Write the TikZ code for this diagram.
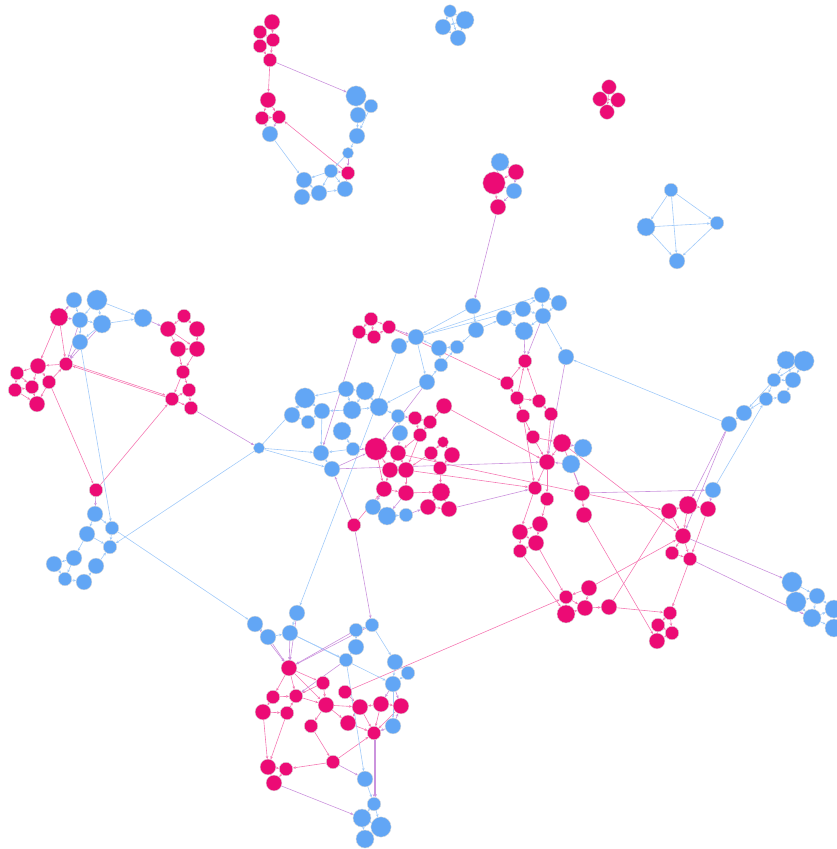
\documentclass[tikz,border=0pt]{standalone}
\usetikzlibrary{arrows.meta}
\definecolor{pk}{RGB}{236,11,117}
\definecolor{bl}{RGB}{98,166,245}
\definecolor{emc}{RGB}{190,120,212}
\pgfdeclarelayer{bg}
\pgfsetlayers{bg,main}
\tikzset{
  nd/.style={circle,inner sep=0pt,draw=white!70!gray,line width=0.4pt},
  pn/.style={nd,fill=pk},
  bn/.style={nd,fill=bl},
  tip/.style={-{Stealth[length=3pt,width=2.6pt]}},
  ep/.style={tip,draw=pk!55!white,line width=0.6pt},
  eb/.style={tip,draw=bl!60!white,line width=0.6pt},
  em/.style={tip,draw=emc!80!white,line width=0.6pt},
}
\begin{document}
\begin{tikzpicture}[x=1pt,y=-1pt]
\useasboundingbox (0,0) rectangle (837,849);
% pink nodes
\foreach \n/\x/\y/\r in {
a1/272/22/7,a2/260/32/6,a3/273/40/6,a4/260/46/6,a5/270/60/6,a6/268/100/7,a7/262/118/6,a8/279/117/6,
b7/348/173/6,
d1/609/87/6.5,d2/600/99/6.5,d3/618/100/6.5,d4/607/112/6.5,
e2/516/172/7,e3/494/183/10,e5/498/207/7,
g3/59/317/8,g8/66/364/6,g9/38/366/7,g10/17/373/6,g11/15/390/6,g12/32/387/6,g13/49/382/6,g14/37/404/7,
h1/184/316/6,h2/168/329/7,h3/197/329/7,h4/178/349/7,h5/197/349/7,h6/183/372/6,h7/189/390/6,h8/172/399/6,h9/191/408/6,
i2/96/490/6,
l1/371/319/6,l2/359/332/6,l3/374/337/6,l4/389/327/6,
p1/415/418/6,p2/430/422/6,p3/420/435/6,p4/444/406/7,p5/376/449/10,p6/398/453/7,p7/390/470/7,p8/406/470/7,p9/384/489/7,p10/406/493/7,
p11/443/442/5,p12/431/453/6,p13/452/455/7,p14/440/468/6,p15/441/492/8,p16/428/507/7,p17/449/509/7,p18/354/525/6,
q1/525/361/6,q2/507/383/6,q3/517/398/6,q4/539/401/6,q5/523/416/6,q6/551/414/6,q7/533/437/6,q8/562/443/8,q9/547/462/7,
q10/535/488/6,q11/547/499/6,q12/582/493/7,q13/584/515/7,q14/520/532/7,q15/540/524/7,q16/536/543/7,q17/520/551/6,
s1/669/511/7,s2/688/505/8,s3/708/509/7,s4/683/536/7,s5/672/553/6,s6/690/559/6,
t1/589/588/7,t2/566/597/6,t3/566/614/8,t4/585/608/7,t5/609/607/7,t6/670/613/6,t7/658/625/6,t8/672/633/6,t9/657/641/7,
w1/289/668/7,w2/273/697/6,w3/296/696/6,w4/263/712/7,w5/287/713/6,w6/323/683/6,w7/345/692/6,w8/326/705/7,w9/360/707/7,
w10/381/704/7,w11/401/706/7,w12/311/726/6,w13/348/723/7,w14/374/733/6,w15/333/762/6,w16/268/767/7,w17/286/769/6,w18/274/783/7}
  \node[pn,minimum size=\r*2.25pt] (\n) at (\x,\y) {};
% blue nodes
\foreach \n/\x/\y/\r in {
a9/270/134/7,
b1/356/96/9,b2/371/106/6,b3/358/115/7,b4/357/136/7,b5/348/153/5,b6/331/171/6,b8/304/180/7,b9/302/197/7,b10/319/193/7,b11/345/189/7,
c1/450/11/5.5,c2/465/20/8,c3/443/27/7,c4/458/38/7,
e1/500/162/8,e4/514/191/7,
f1/671/190/6,f2/646/227/8,f3/717/223/6,f4/677/261/7,
g1/74/300/7,g2/97/300/9,g4/80/320/7,g5/102/324/8,g6/143/318/8,g7/80/342/7,
i1/259/448/5,
j1/95/514/7,j2/87/534/7,j3/112/528/6,j4/110/547/6,j5/74/558/7,j6/54/564/7,j7/96/566/7,j8/65/579/6,j9/84/582/7,
k1/473/306/7,k2/476/330/7,k3/504/318/7,k4/523/309/7,k5/542/295/7,k6/543/316/7,k7/524/331/8,k8/559/303/7,k9/566/357/7,
m1/416/337/7,m2/399/346/7,m3/439/348/7,m4/457/347/6,m5/441/365/6,m6/427/382/7,
n1/305/398/9,n2/292/415/7,n3/322/411/7,n4/308/422/6,n5/346/389/7,n6/365/391/8,n7/352/410/8,n8/379/407/8,n9/342/431/8,
n10/398/416/6,n11/400/433/7,n12/321/453/7,n13/353/449/6,n14/332/469/7,n15/373/507/7,n16/387/516/8,n17/406/515/6,
q18/583/448/8,q19/571/464/8,
r1/786/360/8,r2/804/361/9,r3/774/380/6,r4/793/380/7,r5/766/399/6,r6/784/397/6,r7/744/413/7,r8/729/424/7,r9/713/490/7,
u1/792/582/9,u2/796/602/9,u3/817/596/7,u4/812/618/8,u5/834/609/8,u6/834/628/8,
v1/255/624/7,v2/268/637/7,v3/290/633/7,v4/297/613/7,v5/356/630/6,v6/372/625/6,v7/356/647/7,v8/346/660/6,v9/395/662/7,
v10/408/673/6,v11/393/684/7,v12/393/726/7,v13/365/779/7,v14/374/804/6,v15/362/818/8,v16/381/827/9,v17/365/839/8}
  \node[bn,minimum size=\r*2.25pt] (\n) at (\x,\y) {};
\begin{pgfonlayer}{bg}
% pink edges
\foreach \a/\b in {a1/a2,a1/a3,a2/a3,a2/a4,a3/a4,a3/a5,a4/a5,a5/a6,a6/a7,a6/a8,a7/a8,b7/a8,
d1/d2,d1/d3,d2/d4,d3/d4,d2/d3,d1/d4,e2/e3,e3/e5,
g3/g8,g3/g9,g8/g9,g13/g8,g9/g10,g10/g11,g11/g14,g12/g14,g13/g14,g9/g12,g9/g13,g11/g12,g10/g12,h8/g8,g13/i2,i2/h8,
h1/h2,h1/h3,h2/h4,h3/h5,h4/h5,h2/h5,h4/h6,h5/h6,h6/h8,h6/h7,h7/h9,h8/h9,h8/h7,
l1/l2,l1/l4,l2/l3,l3/l4,l1/l3,l4/q2,
p5/p6,p6/p7,p6/p8,p7/p8,p7/p9,p8/p10,p9/p10,p5/p7,p5/p9,p3/p6,p1/p2,p2/p3,p1/p3,p4/p2,p4/p3,
p11/p12,p11/p13,p12/p14,p13/p14,p14/p15,p15/p16,p15/p17,p16/p17,p3/p8,p12/p8,p10/p15,p18/p9,p4/q9,p5/q12,p8/q10,
q2/q1,q3/q1,q4/q1,q2/q3,q3/q4,q3/q5,q4/q6,q5/q7,q6/q9,q7/q8,q7/q9,q8/q9,q9/q10,q9/q11,q10/q14,q11/q15,q5/q10,
q14/q15,q14/q17,q15/q16,q17/q16,q14/q16,q12/q13,q8/q12,q8/s4,q12/s1,q13/t9,q16/t2,q17/t3,
s1/s2,s2/s3,s1/s4,s2/s4,s3/s6,s4/s5,s4/s6,s5/s6,s6/t6,t1/s4,t5/s1,
t1/t2,t1/t4,t2/t4,t3/t4,t2/t3,t4/t5,t5/t6,t6/t7,t6/t8,t7/t9,t8/t9,t7/t8,w7/t2,
w1/w2,w1/w3,w2/w3,w2/w4,w3/w8,w6/w8,w6/w3,w8/w12,w8/w13,w8/w9,w7/w9,w9/w13,w9/w14,w10/w14,w11/w14,w10/w9,w10/w11,
w13/w14,w1/w8,w1/w6,w12/w15,w15/w17,w15/w14,w4/w16,w16/w17,w16/w18,w17/w18,w5/w3,w4/w5,w5/w16}
  \draw[ep] (\a) -- (\b);
\draw[ep,transform canvas={yshift=1.6pt}] (g8) -- (h8);
% blue edges
\foreach \a/\b in {a9/b8,b1/b3,b2/b3,b2/b4,b3/b4,b4/b5,b5/b6,b6/b8,b6/b10,b8/b9,b8/b10,b9/b10,b10/b11,b6/b11,
c1/c2,c1/c3,c2/c4,c3/c4,c2/c3,c1/c4,f1/f2,f1/f3,f1/f4,f2/f3,f2/f4,f3/f4,
g1/g4,g2/g4,g2/g5,g4/g5,g4/g7,g5/g7,g2/g6,g5/g6,g7/j3,i1/j4,i1/n1,i1/n12,i1/n14,
j1/j2,j1/j3,j2/j4,j3/j4,j2/j5,j5/j6,j6/j8,j8/j9,j9/j7,j7/j4,j5/j8,j3/v1,
k1/m1,k1/k2,k2/k3,k3/k4,k4/k5,k5/k8,k6/k5,k6/k7,k3/k7,k4/k6,k8/k6,k6/k9,k2/m4,m1/k4,m1/k5,r8/k9,
m2/m1,m1/m6,m6/m5,m5/m4,m4/m3,m3/m1,m3/m5,m6/n8,m2/v4,
n1/n2,n1/n3,n2/n4,n3/n4,n5/n6,n5/n7,n6/n7,n7/n8,n6/n8,n7/n3,n5/n1,n8/n10,n10/n11,n9/n13,n13/n12,n12/n14,n3/n12,
n15/n16,n16/n17,q18/q19,
r1/r2,r1/r3,r1/r4,r2/r4,r2/r3,r3/r5,r4/r6,r5/r6,r4/r3,r3/r7,r5/r7,r7/r8,r9/r5,
u1/u2,u1/u3,u2/u4,u3/u4,u3/u5,u4/u6,u5/u6,u4/u5,u2/u3,
v1/v2,v2/v3,v4/v3,v5/v6,v5/v7,v7/v8,v6/v9,v9/v10,v9/v11,v10/v11,v3/v8,v3/v11,v8/v13,v11/v12,
v13/v14,v14/v15,v14/v16,v15/v16,v15/v17,v16/v17}
  \draw[eb] (\a) -- (\b);
% purple edges
\foreach \a/\b in {a7/a9,a8/a9,a5/b1,b5/b7,b6/b7,b7/b11,e1/e2,e1/e3,e2/e4,e3/e4,e4/e5,e5/k1,
g3/g1,g4/g8,g5/g8,g7/g8,g3/g4,i2/j1,h9/i1,g6/h2,
k7/q1,k6/q1,k9/q9,l4/m1,l2/n12,m6/p5,
n10/p1,n14/p5,n13/p5,n11/p6,p9/n15,p10/n16,n17/p16,n14/q9,p18/n14,p18/v6,p17/q10,
q8/q18,q19/q9,q19/q12,q12/r9,r8/s2,r8/s4,r9/s3,s4/u1,s6/u4,
v1/w1,v2/w1,v3/w1,v4/w1,v5/w1,v6/w1,v8/w3,v11/w10,v11/w11,v12/w11,v12/w14,w14/v14,w15/v13,w18/v15}
  \draw[em] (\a) -- (\b);
\draw[em,transform canvas={xshift=1.6pt}] (w14) -- (v14);
\end{pgfonlayer}
\end{tikzpicture}
\end{document}
